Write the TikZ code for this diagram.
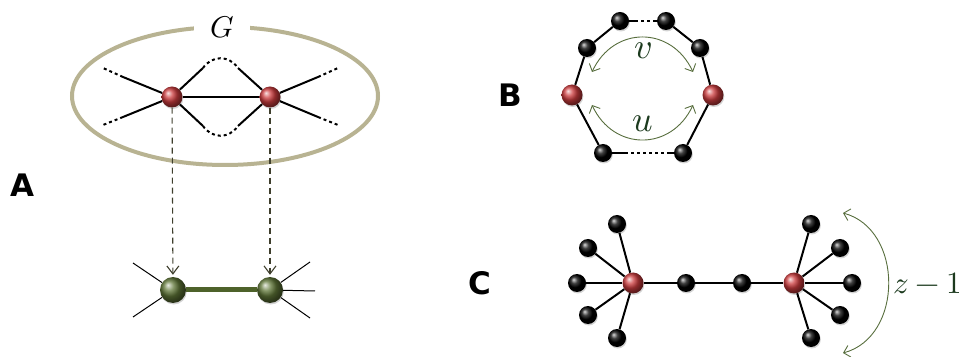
\documentclass[tikz,border=0pt]{standalone}
\usepackage{fontspec}
\usepackage{unicode-math}
\newfontfamily\panelfont{DejaVu Sans}
\usetikzlibrary{arrows.meta, positioning, shadows}
\definecolor{netred}{RGB}{205, 60, 62}
\definecolor{netgreen}{RGB}{95, 118, 55}
\definecolor{netbar}{RGB}{78, 98, 42}
\definecolor{netkhaki}{RGB}{184, 179, 146}
\definecolor{netolive}{RGB}{88, 110, 62}
\definecolor{netdark}{RGB}{28, 58, 30}
\definecolor{netdash}{RGB}{62, 62, 44}

\begin{document}
\begin{tikzpicture}[x=1pt, y=1pt, >=Stealth,
    ball/.style={circle, inner sep=0pt, shade,
        drop shadow={opacity=0.35, shadow xshift=0.8pt, shadow yshift=-1.5pt}},
    redball/.style={ball, ball color=netred, minimum size=21},
    blackball/.style={ball, ball color=black, minimum size=18},
    greenball/.style={ball, ball color=netgreen, minimum size=26},
    link/.style={line width=2pt, black},
    dotlink/.style={link, dash pattern=on 3pt off 3pt},
    thin link/.style={line width=1pt, black},
    panel/.style={font=\panelfont\bfseries\fontsize{31}{31}\selectfont},
    lbl/.style={text=netdark, font=\fontsize{36}{36}\selectfont},
    swing/.style={{Straight Barb[length=6pt,width=12pt]}-{Straight Barb[length=6pt,width=12pt]},
        netolive, line width=0.9pt},
    drop/.style={-{Straight Barb[length=8pt,width=12pt]}, netdash, line width=1.1pt,
        dash pattern=on 6pt off 4pt}
]
\useasboundingbox (0,0) rectangle (971,356);

% === Panel A ===
\node[panel] (labA) at (22,171) {A};

% Graph G
\draw[netkhaki, line width=4pt] (225,260) ellipse (153 and 69);
\node[fill=white, minimum width=56, inner sep=2pt, font=\fontsize{30}{30}\selectfont] (G) at (222,329) {$G$};

\node[redball] (la) at (172,259) {};
\node[redball] (ra) at (270,259) {};

% outer edges
\coordinate (la1) at (123,279); \coordinate (la1e) at (103,288);
\coordinate (la2) at (123,239); \coordinate (la2e) at (103,231);
\coordinate (ra1) at (318,279); \coordinate (ra1e) at (338,288);
\coordinate (ra2) at (318,239); \coordinate (ra2e) at (338,231);
\draw[link] (la) -- (la1); \draw[dotlink] (la1) -- (la1e);
\draw[link] (la) -- (la2); \draw[dotlink] (la2) -- (la2e);
\draw[link] (ra) -- (ra1); \draw[dotlink] (ra1) -- (ra1e);
\draw[link] (ra) -- (ra2); \draw[dotlink] (ra2) -- (ra2e);

% paths between the two nodes
\coordinate (up1) at (203,288); \coordinate (up2) at (238,288);
\coordinate (dn1) at (203,230); \coordinate (dn2) at (238,230);
\draw[link] (la) -- (ra);
\draw[link] (la) -- (up1);
\draw[dotlink] (up1) .. controls (212,301) and (229,301) .. (up2);
\draw[link] (up2) -- (ra);
\draw[link] (la) -- (dn1);
\draw[dotlink] (dn1) .. controls (212,217) and (229,217) .. (dn2);
\draw[link] (dn2) -- (ra);

% reduced edge
\node[greenball] (lg) at (173,66) {};
\node[greenball] (rg) at (270,66) {};
\coordinate (lg1) at (133,93); \coordinate (lg2) at (133,39);
\coordinate (rg1) at (310,94); \coordinate (rg2) at (310,38);
\coordinate (rg3) at (315,65);
\draw[thin link] (lg) -- (lg1);
\draw[thin link] (lg) -- (lg2);
\draw[thin link] (rg) -- (rg1);
\draw[thin link] (rg) -- (rg2);
\draw[thin link] (rg) -- (rg3);
\draw[netbar, line width=5pt] (lg) -- (rg);

\draw[drop, shorten >=2pt] (la) -- (lg);
\draw[drop, shorten >=2pt] (ra) -- (rg);

% === Panel B ===
\node[panel] (labB) at (510,261) {B};

\node[blackball] (tl) at (620,335) {};
\node[blackball] (tr) at (666,335) {};
\node[blackball] (ul) at (587,308) {};
\node[blackball] (ur) at (700,308) {};
\node[redball] (rl) at (572,261) {};
\node[redball] (rr) at (713,261) {};
\node[blackball] (bl) at (603,203) {};
\node[blackball] (br) at (683,203) {};

\draw[link] (tl) -- (ul);
\draw[link] (ul) -- (rl);
\draw[link] (rl) -- (bl);
\draw[link] (tr) -- (ur);
\draw[link] (ur) -- (rr);
\draw[link] (rr) -- (br);

\coordinate (t1) at (635,335); \coordinate (t2) at (655,335);
\coordinate (b1) at (625,203); \coordinate (b2) at (668,203);
\draw[link] (tl) -- (t1); \draw[dotlink] (t1) -- (t2); \draw[link] (t2) -- (tr);
\draw[link] (bl) -- (b1); \draw[dotlink] (b1) -- (b2); \draw[link] (b2) -- (br);

% walks around the cycle
\coordinate (v1) at (592,284); \coordinate (v2) at (693,284);
\coordinate (u1) at (592,251); \coordinate (u2) at (693,251);
\draw[swing] (v1) to[out=65, in=115, looseness=1.3] (v2);
\draw[swing] (u1) to[out=-65, in=-115, looseness=1.3] (u2);
\node[lbl] (vl) at (643,305) {$v$};
\node[lbl] (ul2) at (643,232) {$u$};

% === Panel C ===
\node[panel] (labC) at (480,73) {C};

\node[redball] (cl) at (633,73) {};
\node[redball] (cr) at (794,73) {};
\node[blackball] (m1) at (686,73) {};
\node[blackball] (m2) at (742,73) {};
\draw[link] (cl) -- (m1);
\draw[link] (m1) -- (m2);
\draw[link] (m2) -- (cr);

% leaves
\foreach \n/\x/\y in {1/617/132, 2/588/108, 3/577/73, 4/588/41, 5/617/18}{
    \node[blackball] (p\n) at (\x,\y) {};
    \draw[link] (cl) -- (p\n);
}
\foreach \n/\x/\y in {1/811/132, 2/840/108, 3/852/73, 4/840/41, 5/811/18}{
    \node[blackball] (q\n) at (\x,\y) {};
    \draw[link] (cr) -- (q\n);
}

\coordinate (zt) at (843,143);
\coordinate (zb) at (843,3);
\draw[swing] (zt) to[out=-15, in=15, looseness=1.15] (zb);
\node[lbl, font=\fontsize{31}{31}\selectfont] (zl) at (928,73) {$z-1$};

\end{tikzpicture}
\end{document}
